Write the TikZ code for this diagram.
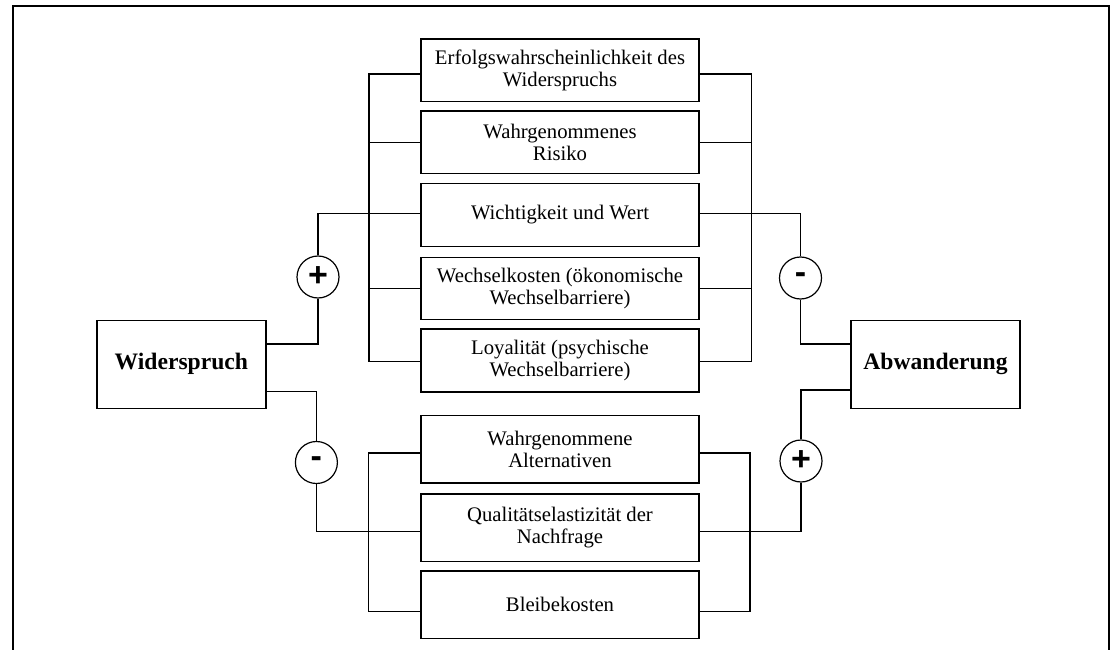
\documentclass[tikz,border=0pt]{standalone}
\usepackage{fontspec}
\setmainfont{Liberation Serif}
\newfontfamily\signfont{Liberation Sans}
\usetikzlibrary{calc}

\tikzset{
  factor/.style={draw, line width=1.5pt, rectangle, inner sep=0pt,
    minimum width=278pt, align=center,
    font=\fontsize{20.7}{22}\selectfont},
  mainbox/.style={draw, line width=1.3pt, rectangle, inner sep=0pt,
    minimum width=169pt, minimum height=88pt,
    font=\bfseries\fontsize{23.6}{26}\selectfont},
  sign/.style={draw, circle, line width=1.2pt, inner sep=0pt,
    minimum size=42pt, font=\signfont\bfseries\fontsize{34}{34}\selectfont},
  link/.style={line width=1.2pt},
  frameline/.style={line width=2pt}
}

\begin{document}
\begin{tikzpicture}[x=1pt, y=-1pt]
  \useasboundingbox (0,0) rectangle (1114,650);

  % open frame (left, top, right)
  \draw[frameline] (13,650) -- (13,6) -- (1109,6) -- (1109,650);

  % influence factors, upper group
  \node[factor, minimum height=62.7pt] (b1) at (560,70.35) {Erfolgswahrscheinlichkeit des\\Widerspruchs};
  \node[factor, minimum height=62.7pt] (b2) at (560,142.35) {Wahrgenommenes\\Risiko};
  \node[factor, minimum height=63.4pt] (b3) at (560,215) {Wichtigkeit und Wert};
  \node[factor, minimum height=62pt]   (b4) at (560,288.3) {Wechselkosten (ökonomische\\Wechselbarriere)};
  \node[factor, minimum height=63pt]   (b5) at (560,360.5) {Loyalität (psychische\\Wechselbarriere)};

  % influence factors, lower group
  \node[factor, minimum height=67.8pt] (b6) at (560,449.3) {Wahrgenommene\\Alternativen};
  \node[factor, minimum height=67.5pt] (b7) at (560,527.6) {Qualitätselastizität der\\Nachfrage};
  \node[factor, minimum height=67.5pt] (b8) at (560,604.5) {Bleibekosten};

  % the two reactions
  \node[mainbox] (W) at (181.4,364.3) {Widerspruch};
  \node[mainbox] (A) at (935.5,364.3) {Abwanderung};

  % effect signs
  \node[sign] (c1) at (318,277) {+};
  \node[sign] (c2) at (800.5,278) {-};
  \node[sign] (c3) at (316.4,462.5) {-};
  \node[sign] (c4) at (801,461) {+};

  % bus rails
  \coordinate (lbus) at (369,0);
  \coordinate (rbus) at (751.5,0);
  \coordinate (lbusB) at (368.6,0);
  \coordinate (rbusB) at (750,0);

  % stub points on the boxes
  \foreach \n/\s in {b1/-3.65, b2/0, b3/1.7, b4/0, b5/-1.2, b6/-3.7, b7/-3.9, b8/-7.3} {
    \coordinate (\n L) at ([yshift=\s pt]\n.west);
    \coordinate (\n R) at ([yshift=\s pt]\n.east);
  }

  % upper group: rails on both sides
  \draw[link] (b1L) -- (b1L -| lbus) -- (b5L -| lbus) -- (b5L);
  \draw[link] (b2L) -- (b2L -| lbus);
  \draw[link] (b4L) -- (b4L -| lbus);
  \draw[link] (b1R) -- (b1R -| rbus) -- (b5R -| rbus) -- (b5R);
  \draw[link] (b2R) -- (b2R -| rbus);
  \draw[link] (b4R) -- (b4R -| rbus);

  % lower group: rails on both sides
  \draw[link] (b6L) -- (b6L -| lbusB) -- (b8L -| lbusB) -- (b8L);
  \draw[link] (b6R) -- (b6R -| rbusB) -- (b8R -| rbusB) -- (b8R);

  % Widerspruch -> (+) -> upper group
  \draw[link] ([yshift=20.3pt]W.east) -| (c1.south);
  \draw[link] (c1.north) |- (b3L);
  % Widerspruch -> (-) -> lower group
  \draw[link] ([yshift=-27.4pt]W.east) -| (c3.north);
  \draw[link] (c3.south) |- (b7L);

  % upper group -> (-) -> Abwanderung
  \draw[link] (b3R) -| (c2.north);
  \draw[link] (c2.south) |- ([yshift=20.3pt]A.west);
  % lower group -> (+) -> Abwanderung
  \draw[link] (b7R) -| (c4.south);
  \draw[link] (c4.north) |- ([yshift=-25.7pt]A.west);
\end{tikzpicture}
\end{document}
